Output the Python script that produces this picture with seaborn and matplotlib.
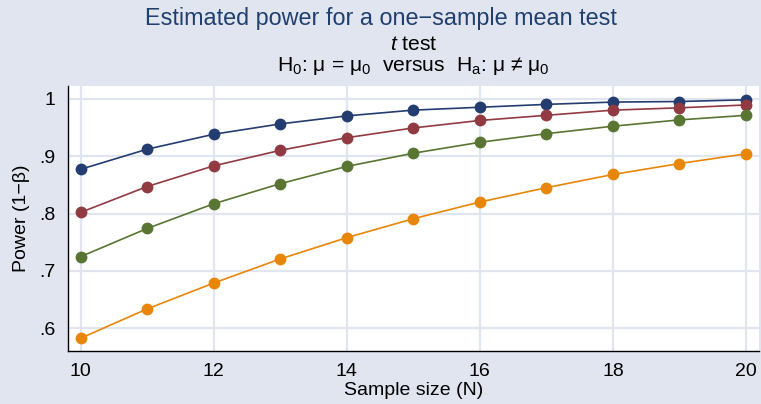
import numpy as np
import pandas as pd
import matplotlib
matplotlib.use("Agg")
import matplotlib.pyplot as plt
import seaborn as sns

# ---- data ----
sample_size = [10, 11, 12, 13, 14, 15, 16, 17, 18, 19, 20]
power_s1 = [0.877, 0.912, 0.938, 0.956, 0.970, 0.980, 0.985, 0.990, 0.994, 0.995, 0.998]
power_s2 = [0.802, 0.847, 0.883, 0.910, 0.932, 0.949, 0.962, 0.971, 0.980, 0.984, 0.989]
power_s3 = [0.725, 0.774, 0.817, 0.852, 0.882, 0.905, 0.924, 0.939, 0.952, 0.963, 0.971]
power_s4 = [0.583, 0.634, 0.679, 0.721, 0.758, 0.791, 0.820, 0.845, 0.868, 0.887, 0.904]
series_names = ["s1", "s2", "s3", "s4"]
series_colors = ["#233D70", "#923A41", "#587532", "#E8860A"]
x_ticks = [10, 12, 14, 16, 18, 20]
y_ticks = [0.6, 0.7, 0.8, 0.9, 1.0]
y_tick_labels = [".6", ".7", ".8", ".9", "1"]

title = "Estimated power for a one\u2212sample mean test"
xlabel = "Sample size (N)"
ylabel = "Power (1\u2212\u03b2)"

frames = []
for name, vals in zip(series_names, [power_s1, power_s2, power_s3, power_s4]):
    frames.append(pd.DataFrame({"N": sample_size, "power": vals, "series": name}))
df = pd.concat(frames, ignore_index=True)

bg = "#E1E5EF"
sns.set_theme(style="white")
plt.rcParams["font.family"] = ["Liberation Sans", "DejaVu Sans"]
plt.rcParams["mathtext.fontset"] = "custom"
plt.rcParams["mathtext.rm"] = "Liberation Sans"
plt.rcParams["mathtext.it"] = "Liberation Sans:italic"

fig = plt.figure(figsize=(7.61, 4.04), dpi=100, facecolor=bg)
ax = fig.add_axes([68 / 761, 1 - 351 / 404, (759 - 68) / 761, (351 - 86) / 404])
ax.set_facecolor("white")

sns.lineplot(data=df, x="N", y="power", hue="series", palette=series_colors,
             marker="o", markersize=8.5, markeredgewidth=0, linewidth=1.2,
             legend=False, ax=ax, zorder=3)

ax.set_xlim(9.81, 20.195)
ax.set_ylim(0.5607, 1.022)
ax.set_xticks(x_ticks)
ax.set_xticklabels([str(t) for t in x_ticks])
ax.set_yticks(y_ticks)
ax.set_yticklabels(y_tick_labels)
ax.grid(True, color=bg, linewidth=1.6, zorder=0)
ax.set_axisbelow(True)
for s in ["top", "right"]:
    ax.spines[s].set_visible(False)
for s in ["left", "bottom"]:
    ax.spines[s].set_color("black")
    ax.spines[s].set_linewidth(1.0)
ax.tick_params(axis="both", which="both", direction="out", colors="black",
               labelsize=14, length=6, width=1.0)
ax.tick_params(axis="x", pad=4, length=5)
ax.tick_params(axis="y", pad=3)
ax.set_xlabel(xlabel, fontsize=14, labelpad=1, color="black")
ax.set_ylabel(ylabel, fontsize=14, labelpad=7, color="black")

sub_x = 0.5 * (68 + 759) / 761
fig.text(0.5007, 1 - 18 / 404, title, ha="center", va="center",
         fontsize=16.8, color="#1F3F6E")
fig.text(sub_x, 1 - 45 / 404, r"$\mathit{t}$ test", ha="center", va="center",
         fontsize=15.2, color="black")
fig.text(sub_x, 1 - 66 / 404,
         "H$_0$: \u03bc = \u03bc$_0$  versus  H$_\\mathrm{a}$: \u03bc \u2260 \u03bc$_0$",
         ha="center", va="center", fontsize=15.2, color="black")

fig.savefig("out.png", dpi=100, facecolor=bg)
